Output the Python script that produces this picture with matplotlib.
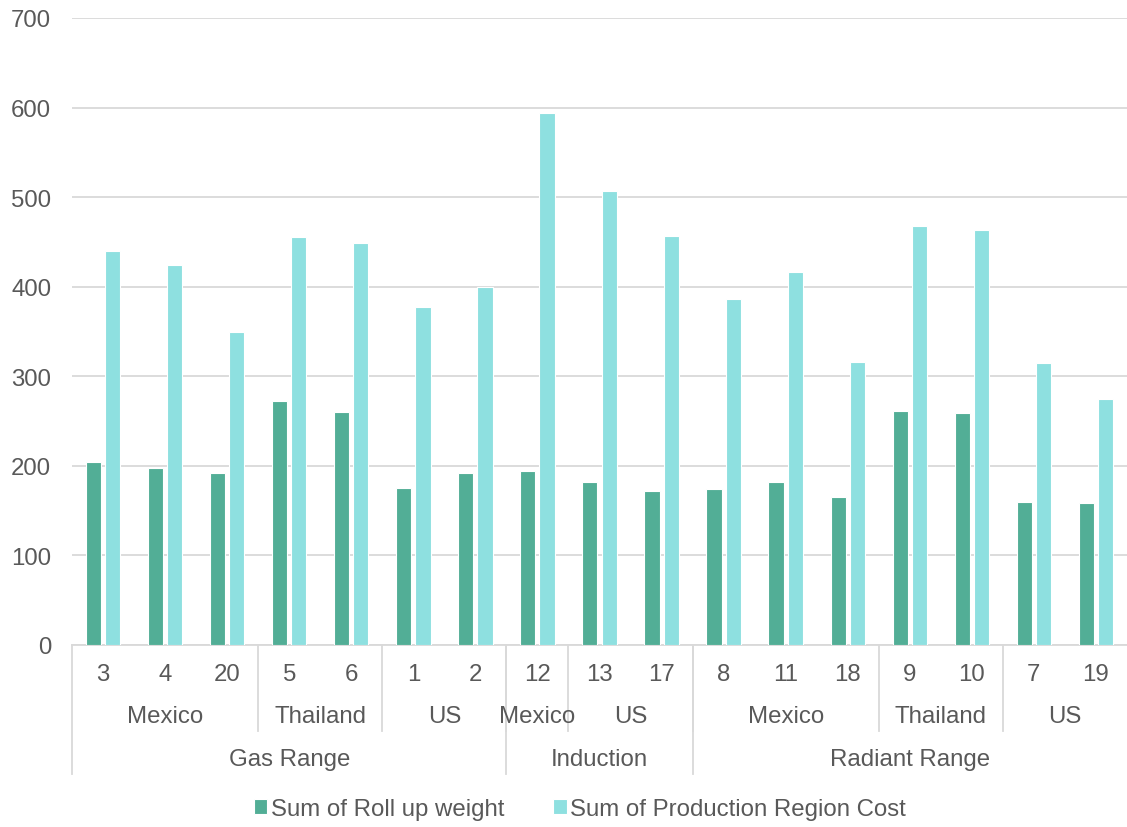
import numpy as np
import matplotlib.pyplot as plt
from matplotlib.transforms import blended_transform_factory
from matplotlib.lines import Line2D

plt.rcParams['font.family'] = ['Liberation Sans', 'DejaVu Sans']

# categories: product group / region / item id
items = ['3', '4', '20', '5', '6', '1', '2', '12', '13', '17',
         '8', '11', '18', '9', '10', '7', '19']
regions = [('Mexico', 3), ('Thailand', 2), ('US', 2),
           ('Mexico', 1), ('US', 2),
           ('Mexico', 3), ('Thailand', 2), ('US', 2)]
groups = [('Gas Range', 7), ('Induction', 3), ('Radiant Range', 7)]

roll_up_weight = [204, 198, 192, 272, 260, 175, 192, 194, 182, 172,
                  174, 182, 165, 261, 259, 160, 159]
region_cost = [440, 424, 349, 456, 449, 377, 400, 594, 507, 457,
               386, 416, 316, 468, 463, 315, 275]

green = '#52AE96'
cyan = '#8EE0E0'
grey_text = '#595959'
grid_col = '#D9D9D9'
fs = 17.3

W, H = 1127, 828
fig = plt.figure(figsize=(W / 100, H / 100), dpi=100)
ax = fig.add_axes([72 / W, 1 - 646 / H, (1127 - 72) / W, (646 - 19) / H])

x = np.arange(len(items))
bw = 0.245
off = 0.155
ax.bar(x - off, roll_up_weight, bw, color=green, edgecolor='white', linewidth=0.8,
       label='Sum of Roll up weight', zorder=3)
ax.bar(x + off, region_cost, bw, color=cyan, edgecolor='white', linewidth=0.8,
       label='Sum of Production Region Cost', zorder=3)

ax.set_xlim(-0.5, len(items) - 0.5)
ax.set_ylim(0, 700)
ax.set_yticks(range(0, 701, 100))
ax.yaxis.grid(True, color=grid_col, linewidth=1.3, zorder=0)
ax.tick_params(axis='y', length=0, pad=15, labelsize=fs, labelcolor=grey_text)
ax.set_xticks([])
for s in ['top', 'right', 'left']:
    ax.spines[s].set_visible(False)
ax.spines['bottom'].set_color(grid_col)
ax.spines['bottom'].set_linewidth(1.3)

# multi-level category axis
tr = blended_transform_factory(ax.transData, fig.transFigure)
fy = lambda px: 1 - px / H

def vline(xpos, bottom_px):
    ax.add_line(Line2D([xpos, xpos], [fy(646), fy(bottom_px)], transform=tr,
                       color=grid_col, linewidth=1.3, clip_on=False))

for i, lab in enumerate(items):
    ax.text(i, fy(675), lab, transform=tr, ha='center', va='center',
            fontsize=fs, color=grey_text)

start = 0
for name, n in regions:
    ax.text(start + (n - 1) / 2, fy(717), name, transform=tr, ha='center',
            va='center', fontsize=fs, color=grey_text)
    if start > 0:
        vline(start - 0.5, 732)
    start += n

start = 0
for name, n in groups:
    ax.text(start + (n - 1) / 2, fy(760), name, transform=tr, ha='center',
            va='center', fontsize=fs, color=grey_text)
    vline(start - 0.5, 775)
    start += n

leg = fig.legend(loc='center', bbox_to_anchor=(580 / W, fy(810)), ncol=2,
                 frameon=False, fontsize=fs, handlelength=0.55, handleheight=0.55,
                 handletextpad=0.15, columnspacing=2.05)
for t in leg.get_texts():
    t.set_color(grey_text)

fig.savefig('out.png', dpi=100)
